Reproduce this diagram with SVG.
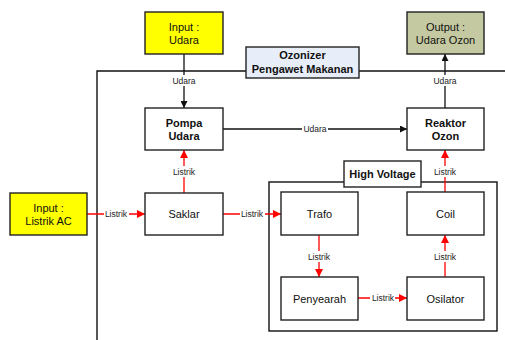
<svg xmlns="http://www.w3.org/2000/svg" width="505" height="340" viewBox="0 0 505 340">
<style>
.box{fill:#fff;stroke:#222;stroke-width:1.4}
.yel{fill:#ffff00}
.out{fill:#c4c9a2}
.blu{fill:#e7eef9}
.t{font-family:"Liberation Sans",Arial,sans-serif;font-size:11px;fill:#111;text-anchor:middle}
.b{font-weight:bold}
.lb{font-family:"Liberation Sans",Arial,sans-serif;font-size:8.5px;fill:#222;text-anchor:middle}
.k{stroke:#111;stroke-width:1.3;fill:none}
.r{stroke:#ff0000;stroke-width:1.3;fill:none}
.frame{stroke:#111;stroke-width:1.4;fill:none}
</style>
<defs>
<marker id="ak" viewBox="0 0 10 10" refX="10" refY="5" markerWidth="7" markerHeight="7" markerUnits="userSpaceOnUse" orient="auto"><path d="M0,0L10,5L0,10z" fill="#111"/></marker>
<marker id="ar" viewBox="0 0 10 10" refX="10" refY="5" markerWidth="8" markerHeight="8" markerUnits="userSpaceOnUse" orient="auto"><path d="M0,0L10,5L0,10z" fill="#ff0000"/></marker>
</defs>
<rect width="505" height="340" fill="#fff"/>
<g id="frames">
<path class="frame" d="M97,340V71H505"/>
<rect class="frame" x="269" y="182" width="228" height="149"/>
</g>
<g id="connectors">
<line class="k" x1="184" y1="54" x2="184" y2="108" marker-end="url(#ak)"/>
<line class="k" x1="223" y1="129" x2="407" y2="129" marker-end="url(#ak)"/>
<line class="k" x1="445" y1="108" x2="445" y2="54" marker-end="url(#ak)"/>
<line class="r" x1="184" y1="193" x2="184" y2="150" marker-end="url(#ar)"/>
<line class="r" x1="87" y1="214" x2="145" y2="214" marker-end="url(#ar)"/>
<line class="r" x1="223" y1="214" x2="281" y2="214" marker-end="url(#ar)"/>
<line class="r" x1="319" y1="235" x2="319" y2="277" marker-end="url(#ar)"/>
<line class="r" x1="358" y1="298" x2="407" y2="298" marker-end="url(#ar)"/>
<line class="r" x1="445" y1="277" x2="445" y2="235" marker-end="url(#ar)"/>
<line class="r" x1="445" y1="192" x2="445" y2="150" marker-end="url(#ar)"/>
<g fill="#fff">
<rect x="171" y="75" width="26" height="11"/>
<rect x="302" y="124" width="26" height="10"/>
<rect x="432" y="75" width="26" height="11"/>
<rect x="171" y="166" width="27" height="11"/>
<rect x="104" y="209" width="25" height="10"/>
<rect x="240" y="209" width="25" height="10"/>
<rect x="306" y="251" width="27" height="11"/>
<rect x="370" y="293" width="25" height="10"/>
<rect x="432" y="251" width="27" height="11"/>
<rect x="432" y="166" width="27" height="11"/>
</g>
<text class="lb" x="184" y="84">Udara</text>
<text class="lb" x="315" y="132">Udara</text>
<text class="lb" x="445" y="84">Udara</text>
<text class="lb" x="184" y="175">Listrik</text>
<text class="lb" x="116" y="217">Listrik</text>
<text class="lb" x="252" y="217">Listrik</text>
<text class="lb" x="319" y="260">Listrik</text>
<text class="lb" x="383" y="301">Listrik</text>
<text class="lb" x="445" y="260">Listrik</text>
<text class="lb" x="445" y="175">Listrik</text>
</g>
<g id="ozonizer"><rect class="box blu" x="246" y="47" width="113" height="31"/><text class="t b" x="302.5" y="59">Ozonizer</text><text class="t b" x="302.5" y="73">Pengawet Makanan</text></g>
<g id="highvoltage"><rect class="box" x="344" y="161" width="77" height="26"/><text class="t b" x="382.5" y="178">High Voltage</text></g>
<g id="input-udara"><rect class="box yel" x="145" y="12" width="78" height="42"/><text class="t" x="184" y="30.5">Input :</text><text class="t" x="184" y="44">Udara</text></g>
<g id="output"><rect class="box out" x="407" y="12" width="77" height="42"/><text class="t" x="445.5" y="30.5">Output :</text><text class="t" x="445.5" y="44">Udara Ozon</text></g>
<g id="pompa"><rect class="box" x="145" y="108" width="78" height="42"/><text class="t b" x="184" y="126.5">Pompa</text><text class="t b" x="184" y="140">Udara</text></g>
<g id="reaktor"><rect class="box" x="407" y="108" width="77" height="42"/><text class="t b" x="445.5" y="126.5">Reaktor</text><text class="t b" x="445.5" y="140">Ozon</text></g>
<g id="input-listrik"><rect class="box yel" x="10" y="193" width="77" height="42"/><text class="t" x="48.5" y="211.5">Input :</text><text class="t" x="48.5" y="225">Listrik AC</text></g>
<g id="saklar"><rect class="box" x="145" y="193" width="78" height="42"/><text class="t" x="184" y="218">Saklar</text></g>
<g id="trafo"><rect class="box" x="281" y="192" width="77" height="43"/><text class="t" x="319.5" y="217.5">Trafo</text></g>
<g id="coil"><rect class="box" x="407" y="192" width="77" height="43"/><text class="t" x="445.5" y="217.5">Coil</text></g>
<g id="penyearah"><rect class="box" x="281" y="277" width="77" height="43"/><text class="t" x="319.5" y="302.5">Penyearah</text></g>
<g id="osilator"><rect class="box" x="407" y="277" width="77" height="43"/><text class="t" x="445.5" y="302.5">Osilator</text></g>
</svg>
